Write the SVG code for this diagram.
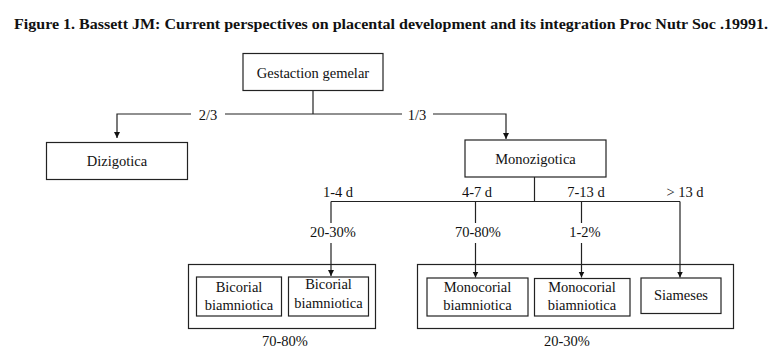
<svg xmlns="http://www.w3.org/2000/svg" width="783" height="363" viewBox="0 0 783 363">
<style>
text{font-family:"Liberation Serif","Times New Roman",serif;font-size:14.5px;fill:#111;text-anchor:middle}
.t{font-weight:bold;font-size:15px}
.b{fill:#fff;stroke:#222;stroke-width:1.2}
.c{fill:none;stroke:#222;stroke-width:1.2}
</style>
<defs>
<marker id="ah" viewBox="0 0 10 10" refX="10" refY="5" markerWidth="6" markerHeight="8" markerUnits="userSpaceOnUse" orient="auto">
<path d="M0,0 L10,5 L0,10 z" fill="#111"/>
</marker>
</defs>
<rect width="783" height="363" fill="#fff"/>
<text class="t" x="391" y="29" textLength="754" lengthAdjust="spacingAndGlyphs">Figure 1. Bassett JM: Current perspectives on placental development and its integration Proc Nutr Soc .19991.</text>

<g id="groups">
<rect class="b" x="188.5" y="264.5" width="187" height="64"/>
<rect class="b" x="417.5" y="264.5" width="316" height="64"/>
</g>

<g id="connectors">
<path class="c" d="M313,90 V114"/>
<path class="c" d="M191,114 H117 V138" marker-end="url(#ah)"/>
<path class="c" d="M225,114 H402"/>
<path class="c" d="M433,114 H506 V139" marker-end="url(#ah)"/>
<path class="c" d="M534.5,177 V201.5"/>
<path class="c" d="M331,201.5 H680"/>
<path class="c" d="M331,201.5 V223 M331,243 V276" marker-end="url(#ah)"/>
<path class="c" d="M475.5,201.5 V223 M475.5,243 V277.5" marker-end="url(#ah)"/>
<path class="c" d="M581.5,201.5 V223 M581.5,243 V277.5" marker-end="url(#ah)"/>
<path class="c" d="M680,201.5 V277.5" marker-end="url(#ah)"/>
<text x="208" y="119.5">2/3</text>
<text x="417" y="119.5">1/3</text>
<text x="338" y="196.5">1-4 d</text>
<text x="477" y="196.5">4-7 d</text>
<text x="586" y="196.5">7-13 d</text>
<text x="685" y="196.5">&gt; 13 d</text>
<text x="333" y="237">20-30%</text>
<text x="478" y="237">70-80%</text>
<text x="585" y="237">1-2%</text>
</g>

<g id="n-gestaction">
<rect class="b" x="243" y="53.5" width="140" height="37"/>
<text x="313" y="77.5">Gestaction gemelar</text>
</g>
<g id="n-dizigotica">
<rect class="b" x="46.5" y="142.5" width="141" height="37"/>
<text x="117" y="165.5">Dizigotica</text>
</g>
<g id="n-monozigotica">
<rect class="b" x="465" y="140" width="141" height="37"/>
<text x="535.5" y="163.5">Monozigotica</text>
</g>
<g id="n-bicorial1">
<rect class="b" x="196.5" y="277" width="85" height="39"/>
<text x="239" y="292">Bicorial</text>
<text x="239" y="310">biamniotica</text>
</g>
<g id="n-bicorial2">
<rect class="b" x="288.5" y="277" width="80" height="39"/>
<text x="328.5" y="289">Bicorial</text>
<text x="328.5" y="308">biamniotica</text>
</g>
<g id="n-monocorial1">
<rect class="b" x="427" y="278" width="101" height="38"/>
<text x="477.5" y="292">Monocorial</text>
<text x="477.5" y="310">biamniotica</text>
</g>
<g id="n-monocorial2">
<rect class="b" x="534.5" y="278.5" width="95.5" height="37.5"/>
<text x="582" y="292">Monocorial</text>
<text x="582" y="310">biamniotica</text>
</g>
<g id="n-siameses">
<rect class="b" x="641" y="278" width="80" height="35.5"/>
<text x="681" y="300">Siameses</text>
</g>
<text x="285" y="346">70-80%</text>
<text x="567" y="346">20-30%</text>
</svg>
